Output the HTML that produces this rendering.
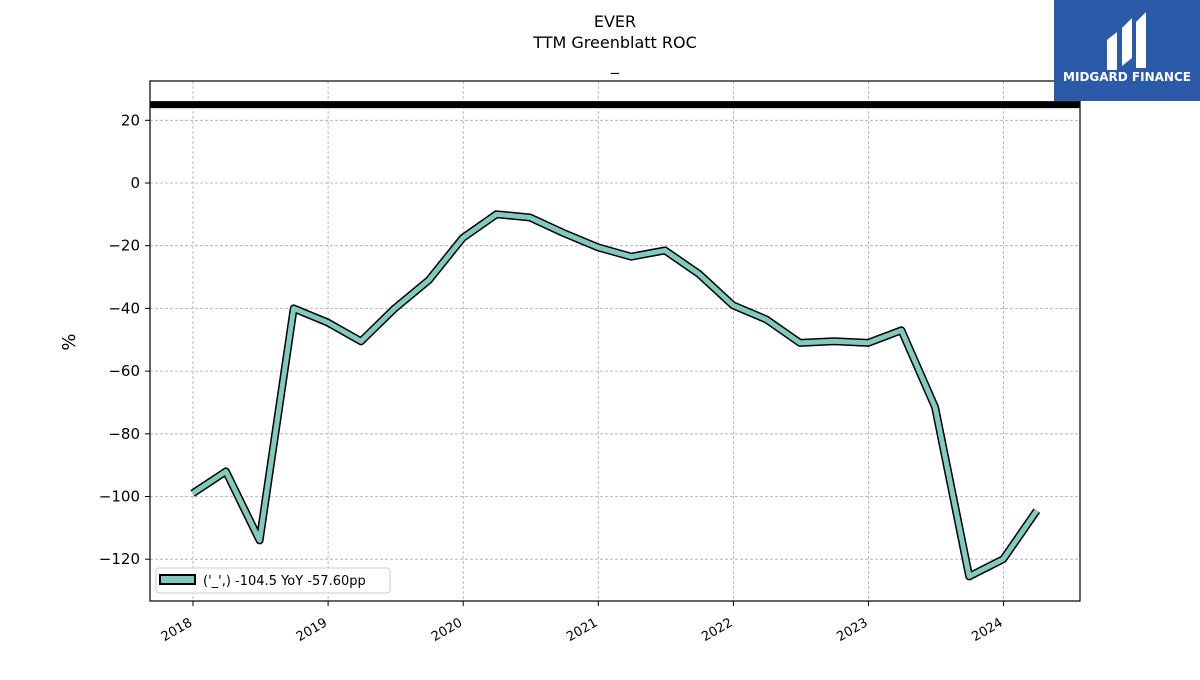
<!DOCTYPE html>
<html><head><meta charset="utf-8">
<style>
body{margin:0;background:#fff;font-family:"Liberation Sans","DejaVu Sans",sans-serif;}
svg text{font-family:"DejaVu Sans","Liberation Sans",sans-serif;}
</style></head>
<body>
<svg id="chart" width="1200" height="675" xmlns="http://www.w3.org/2000/svg">
<rect width="1200" height="675" fill="#fff"/>
<text x="615" y="27" text-anchor="middle" font-size="16">EVER</text>
<text x="615" y="48" text-anchor="middle" font-size="16">TTM Greenblatt ROC</text>
<text x="615" y="70" text-anchor="middle" font-size="16">_</text>
<g id="grid"></g>
<g id="series"></g>
<rect x="150" y="81" width="930" height="520" fill="none" stroke="#000" stroke-width="1.2"/>
<g id="axes"></g>
<text x="75" y="342" font-size="18" text-anchor="middle" transform="rotate(-90 75 342)">%</text>
<g>
<rect x="156" y="568" width="234" height="25" rx="3" fill="#fff" stroke="#ccc"/>
<rect x="160" y="575" width="35" height="9" fill="#80cbbd" stroke="#000" stroke-width="2"/>
<text x="203" y="585" font-size="13">('_',) -104.5 YoY -57.60pp</text>
</g>
<g>
<rect x="1054" y="0" width="146" height="101" fill="#2b5aa8"/>
<path d="M1107 40 L1117 32 L1117 70 L1107 70 Z M1122 28 L1132 18 L1132 58 L1122 66 Z M1136 22 L1146 12 L1146 68 L1136 68 Z" fill="#fff"/>
<text x="1127" y="81" text-anchor="middle" font-size="12" font-weight="bold" fill="#fff">MIDGARD FINANCE</text>
</g>
</svg>
<script>
const dates=["2017-12-31","2018-03-31","2018-06-30","2018-09-30","2018-12-31","2019-03-31","2019-06-30","2019-09-30","2019-12-31","2020-03-31","2020-06-30","2020-09-30","2020-12-31","2021-03-31","2021-06-30","2021-09-30","2021-12-31","2022-03-31","2022-06-30","2022-09-30","2022-12-31","2023-03-31","2023-06-30","2023-09-30","2023-12-31","2024-03-31"];
const values=[-99,-92,-114,-40,-44.5,-50.5,-40,-31,-17.5,-10,-11,-16,-20.5,-23.5,-21.5,-29,-39,-43.5,-51,-50.5,-51,-47,-71.5,-125.5,-120,-104.5];
const refValue=25;
const yTicks=[20,0,-20,-40,-60,-80,-100,-120];
const xTicks=[2018,2019,2020,2021,2022,2023,2024];
const NS="http://www.w3.org/2000/svg";
function yr(d){const t=new Date(d+"T00:00:00Z");const y=t.getUTCFullYear();return y+(t-Date.UTC(y,0,1))/(Date.UTC(y+1,0,1)-Date.UTC(y,0,1));}
function x(t){return 193+(t-2018)*135.1;}
function y(v){return 183-v*3.135;}
function mk(tag,attrs,parent){const e=document.createElementNS(NS,tag);for(const k in attrs)e.setAttribute(k,attrs[k]);parent.appendChild(e);return e;}
const grid=document.getElementById('grid'),axes=document.getElementById('axes'),series=document.getElementById('series');
yTicks.forEach(v=>{
 const g=mk('line',{x1:150,x2:1080,y1:y(v),y2:y(v),stroke:'#aaa','stroke-dasharray':'3,2','stroke-width':0.8},grid);
 
 
 mk('line',{x1:145,x2:150,y1:y(v),y2:y(v),stroke:'#000'},axes);
 const t=mk('text',{x:140,y:y(v)+5,'text-anchor':'end','font-size':15},axes);
 
 
 t.textContent=(v<0?'\u2212'+(-v):v);
});
xTicks.forEach(yy=>{
 const px=x(yy);
 const g=mk('line',{x1:px,x2:px,y1:81,y2:601,stroke:'#aaa','stroke-dasharray':'3,2','stroke-width':0.8},grid);
 
 
 mk('line',{x1:px,x2:px,y1:601,y2:606,stroke:'#000'},axes);
 const t=mk('text',{x:px,y:625,'text-anchor':'end','font-size':13,transform:`rotate(-30 ${px} 625)`},axes);
 
 
 t.textContent=yy;
});
const ref=mk('line',{x1:150,x2:1080,y1:y(refValue),y2:y(refValue),stroke:'#000','stroke-width':7},series);


const pts=dates.map((d,i)=>x(yr(d)).toFixed(1)+','+y(values[i]).toFixed(1)).join(' ');
const o=mk('polyline',{points:pts,fill:'none',stroke:'#000','stroke-width':8,'stroke-linejoin':'round'},series);


const l=mk('polyline',{points:pts,fill:'none',stroke:'#80cbbd','stroke-width':5,'stroke-linejoin':'round'},series);


</script>
</body></html>
